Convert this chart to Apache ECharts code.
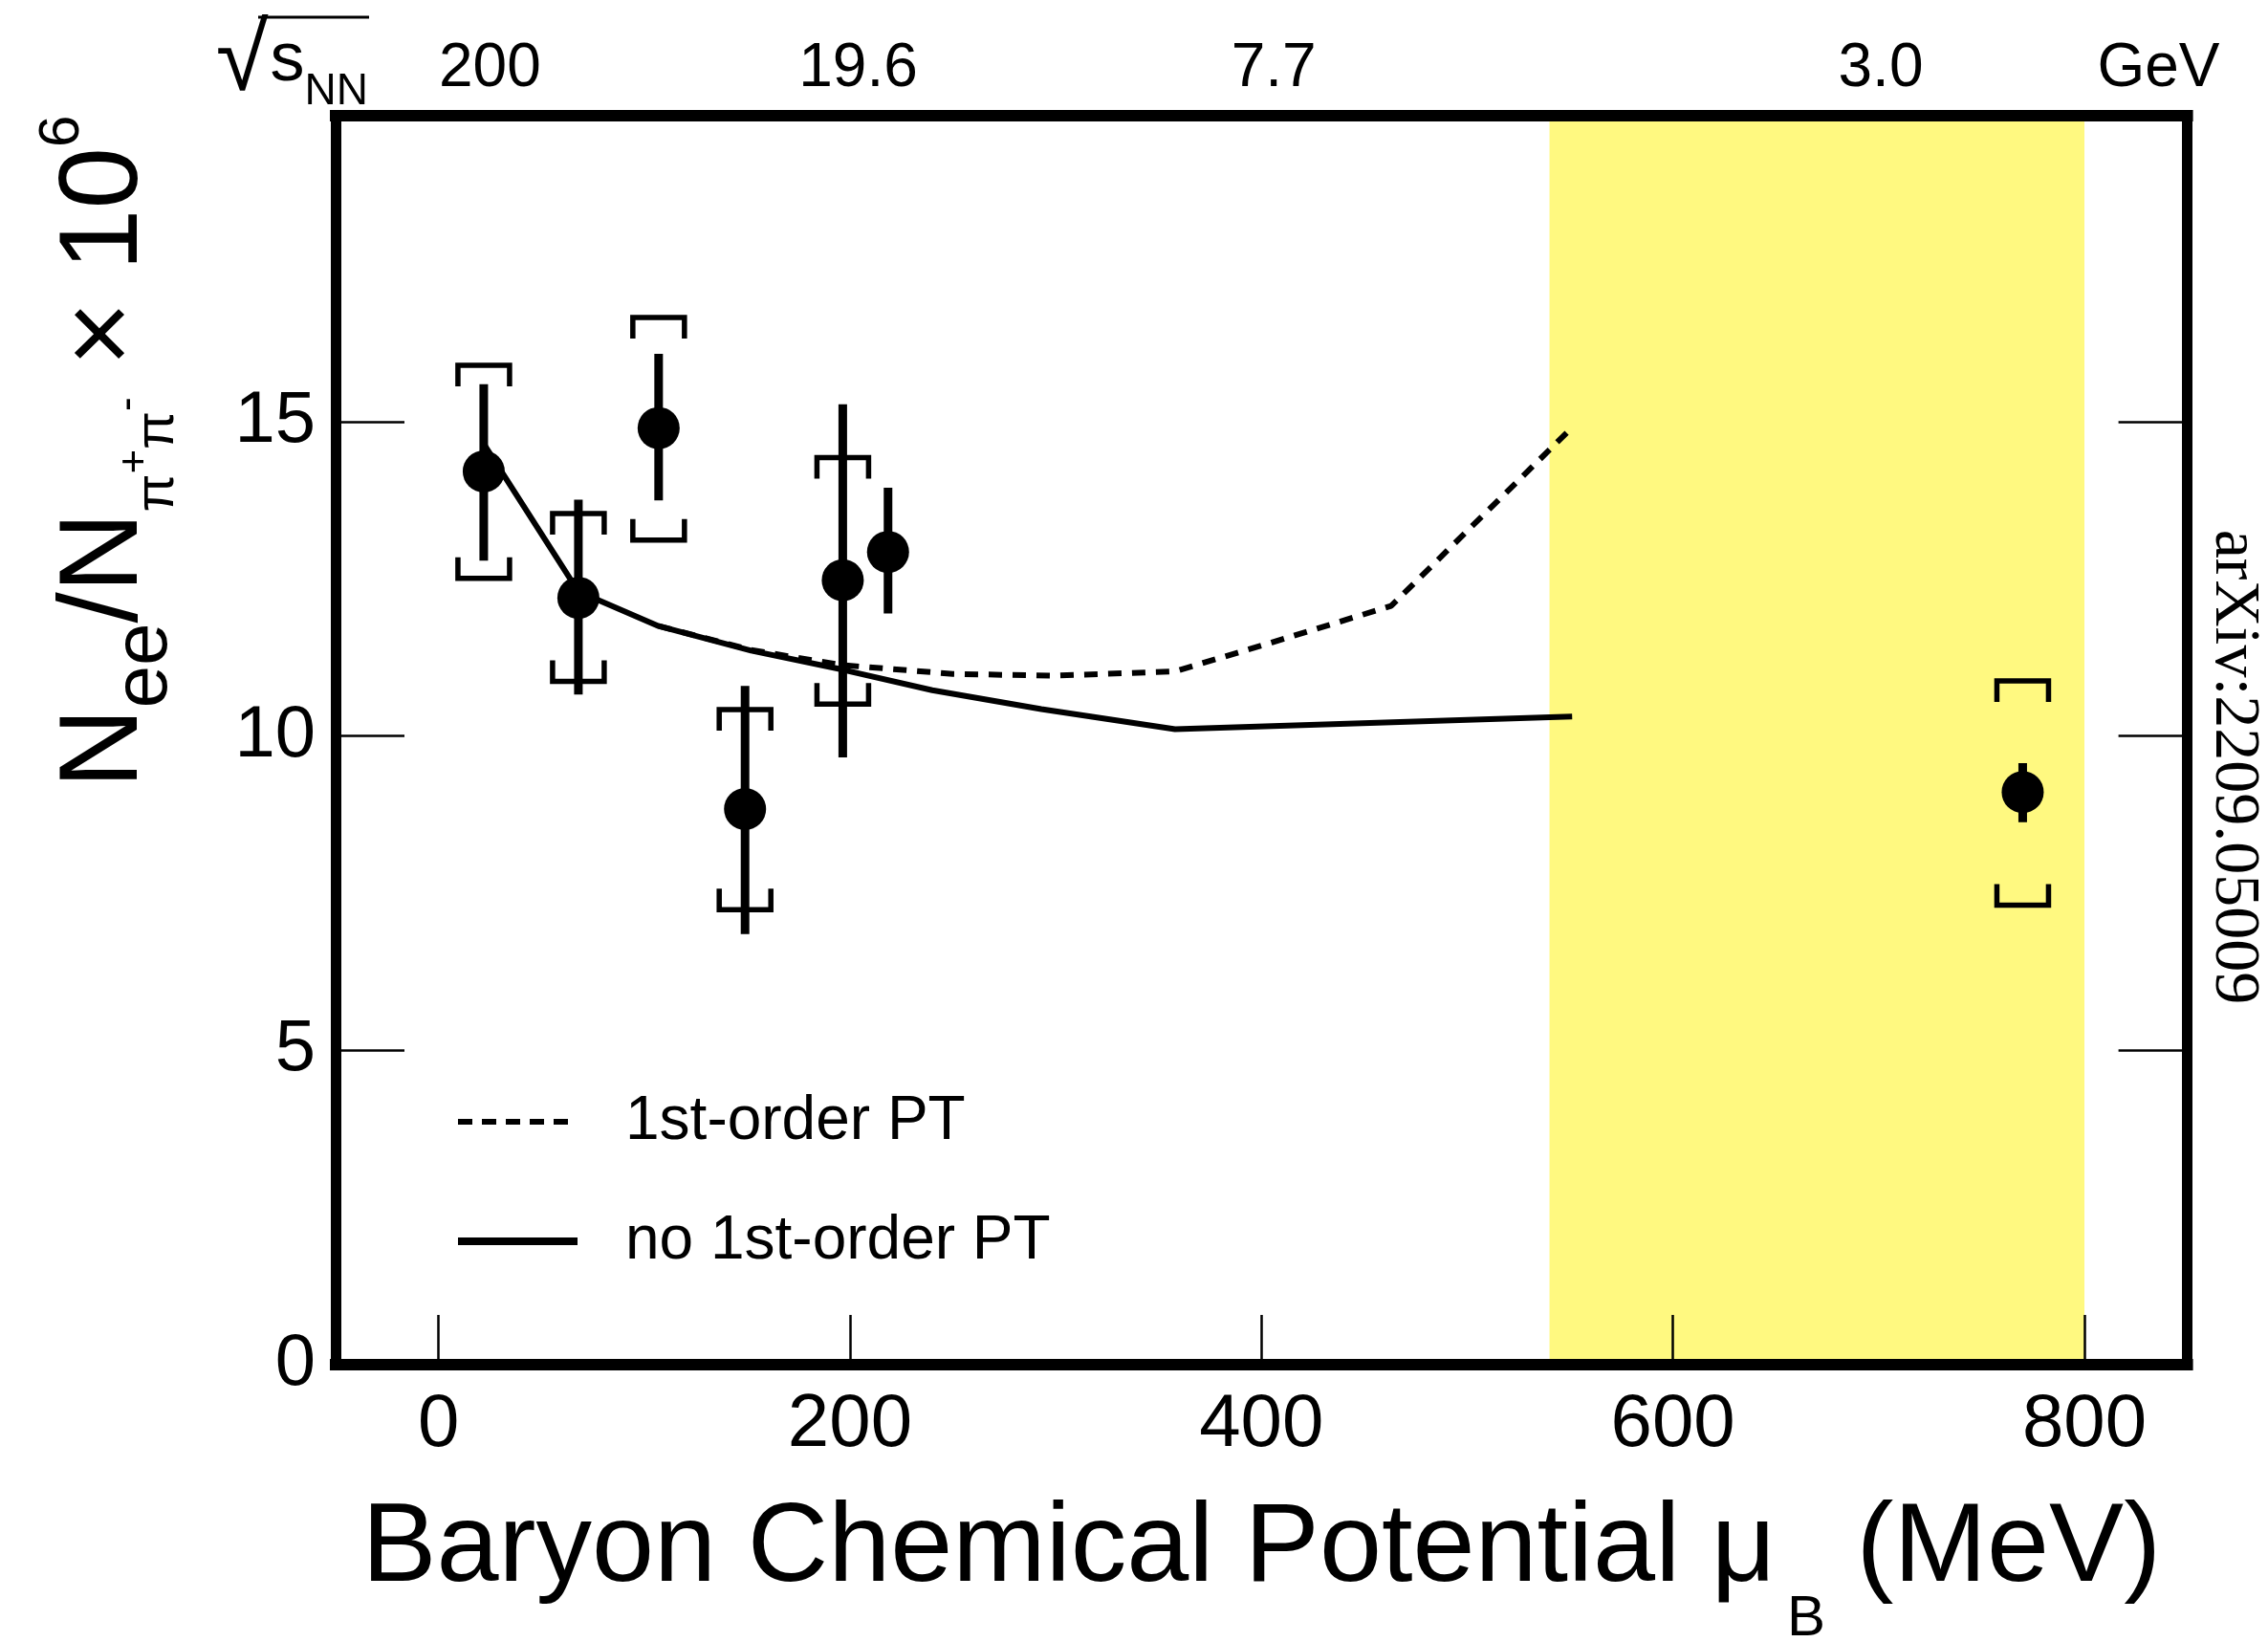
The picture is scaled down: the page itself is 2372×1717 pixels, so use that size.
<!DOCTYPE html>
<html>
<head>
<meta charset="utf-8">
<script src="https://cdn.jsdelivr.net/npm/echarts@6/dist/echarts.min.js"></script>
<style>
  html, body { margin: 0; padding: 0; background: #fff; }
  #chart { width: 2372px; height: 1717px; }
</style>
</head>
<body>
<div id="chart"></div>
<script>
// ---- data ----
const muB       = [22, 68, 107, 149, 196.5, 218.5, 770];
const ratio     = [14.21, 12.20, 14.90, 8.84, 12.48, 12.93, 9.11];
const statLow   = [12.79, 10.66, 13.75, 6.85, 9.66, 11.95, 8.63];
const statHigh  = [15.60, 13.76, 16.08, 10.80, 15.28, 13.95, 9.57];
const sysLow    = [12.51, 10.87, 13.12, 7.24, 10.51, null, 7.31];
const sysHigh   = [15.90, 13.54, 16.66, 10.42, 14.43, null, 10.88];

const solidMu   = [22, 68, 107, 152, 196, 240, 293, 358, 551];
const solidVal  = [14.65, 12.30, 11.75, 11.36, 11.06, 10.73, 10.43, 10.11, 10.31];
const dashMu    = [107, 152, 196, 250, 298, 358, 405, 463, 551];
const dashVal   = [11.75, 11.37, 11.13, 10.99, 10.96, 11.03, 11.49, 12.07, 14.91];

const bandRange = [540, 800];
const xTicks = [0, 200, 400, 600, 800];
const yTicks = [0, 5, 10, 15];
const topTickPos = [25, 204, 406, 701, 836];
const topTickLabels = ['200', '19.6', '7.7', '3.0', 'GeV'];

// ---- build ----
const FONT = 'Liberation Sans, Arial, Helvetica, sans-serif';
const points = muB.map((m, i) => [m, ratio[i]]);
const statData = muB.map((m, i) => [m, statLow[i], statHigh[i]]);
const sysData = [];
muB.forEach((m, i) => { if (sysLow[i] != null) sysData.push([m, sysLow[i], sysHigh[i]]); });
const solidData = solidMu.map((m, i) => [m, solidVal[i]]);
const dashData = dashMu.map((m, i) => [m, dashVal[i]]);

const chart = echarts.init(document.getElementById('chart'), null, { renderer: 'canvas' });

const hiddenSymbol = { color: 'rgba(0,0,0,0)', borderWidth: 0, opacity: 0 };

const option = {
  animation: false,
  backgroundColor: '#fff',
  grid: { left: 351, right: 84.4, top: 121, bottom: 290, containLabel: false, outerBoundsMode: 'none' },
  legend: {
    left: 475, top: 1136, orient: 'vertical', padding: 0, itemGap: 51,
    itemWidth: 125, itemHeight: 30, selectedMode: false,
    textStyle: { fontSize: 64, fontFamily: FONT, color: '#000', lineHeight: 64, padding: [10, 0, 0, 45] },
    data: [
      { name: '1st-order PT', lineStyle: { width: 6, type: [15, 10], color: '#000' }, itemStyle: hiddenSymbol },
      { name: 'no 1st-order PT', lineStyle: { width: 8, type: 'solid', color: '#000' }, itemStyle: hiddenSymbol }
    ]
  },
  xAxis: [
    {
      type: 'value', position: 'bottom', min: -50, max: 850, z: 3,
      splitLine: { show: false },
      axisLine: { show: true, onZero: false, lineStyle: { color: '#000', width: 12, cap: 'square' } },
      axisTick: { show: true, inside: true, length: 52, customValues: xTicks, lineStyle: { color: '#000', width: 2.5 } },
      axisLabel: { show: true, customValues: xTicks, margin: 24, fontSize: 78, fontFamily: FONT, color: '#000' },
      name: '{m|Baryon Chemical Potential μ}{s|B}{m| (MeV)}',
      nameLocation: 'middle', nameGap: 135, nameMoveOverlap: false,
      nameTextStyle: {
        color: '#000', fontFamily: FONT,
        rich: {
          m: { fontSize: 117, lineHeight: 117, verticalAlign: 'top', fontFamily: FONT, color: '#000' },
          s: { fontSize: 60, lineHeight: 60, verticalAlign: 'top', padding: [101, 0, 0, 12], fontFamily: FONT, color: '#000' }
        }
      }
    },
    {
      type: 'value', position: 'top', min: -50, max: 850, z: 3,
      splitLine: { show: false },
      axisLine: { show: true, onZero: false, lineStyle: { color: '#000', width: 12, cap: 'square' } },
      axisTick: { show: false },
      axisLabel: {
        show: true, customValues: topTickPos, margin: 17, fontSize: 64, fontFamily: FONT, color: '#000',
        formatter: function (v) { const i = topTickPos.indexOf(v); return i >= 0 ? topTickLabels[i] : ''; }
      },
      name: '{r|√}{s|s}{n|NN}',
      nameLocation: 'start', nameGap: -34, nameMoveOverlap: false,
      nameTextStyle: {
        color: '#000', fontFamily: FONT, padding: [0, 0, 129, 0],
        rich: {
          r: { fontSize: 100, lineHeight: 100, verticalAlign: 'top', padding: [10, 0, 0, 0], fontFamily: FONT, color: '#000' },
          s: { fontSize: 72, lineHeight: 72, verticalAlign: 'top', padding: [22, 0, 0, 2], fontFamily: FONT, color: '#000' },
          n: { fontSize: 46, lineHeight: 46, verticalAlign: 'top', padding: [67, 0, 0, 0], fontFamily: FONT, color: '#000' }
        }
      }
    }
  ],
  yAxis: [
    {
      type: 'value', position: 'left', min: 0, max: 19.87, interval: 5, z: 3,
      splitLine: { show: false },
      axisLine: { show: true, onZero: false, lineStyle: { color: '#000', width: 11, cap: 'square' } },
      axisTick: { show: true, inside: true, length: 72, customValues: [5, 10, 15], lineStyle: { color: '#000', width: 2.5 } },
      axisLabel: { show: true, customValues: yTicks, margin: 21, fontSize: 76, fontFamily: FONT, color: '#000' },
      name: '{m|N}{e|ee}{m|/N}{p|π}{pm|+}{p|π}{mi|-}{m| × 10}{sup|6}',
      nameLocation: 'middle', nameRotate: 90, nameGap: 212, nameMoveOverlap: false,
      nameTextStyle: {
        color: '#000', fontFamily: FONT, padding: [0, 0, 0, 603],
        rich: {
          m:  { fontSize: 116, lineHeight: 116, verticalAlign: 'top', padding: [30, 0, 0, 0], fontFamily: FONT, color: '#000' },
          e:  { fontSize: 80, lineHeight: 80, verticalAlign: 'top', padding: [89, 0, 0, 0], fontFamily: FONT, color: '#000' },
          p:  { fontSize: 58, lineHeight: 58, verticalAlign: 'top', padding: [113, 0, 0, 0], fontFamily: FONT, color: '#000' },
          pm: { fontSize: 44, lineHeight: 44, verticalAlign: 'top', padding: [97, 0, 0, 0], fontFamily: FONT, color: '#000' },
          mi: { fontSize: 44, lineHeight: 44, verticalAlign: 'top', padding: [89, 0, 0, 0], fontFamily: FONT, color: '#000' },
          sup:{ fontSize: 60, lineHeight: 60, verticalAlign: 'top', padding: [12, 0, 0, 0], fontFamily: FONT, color: '#000' }
        }
      }
    },
    {
      type: 'value', position: 'right', min: 0, max: 19.87, interval: 5, z: 3,
      splitLine: { show: false },
      axisLine: { show: true, onZero: false, lineStyle: { color: '#000', width: 11, cap: 'square' } },
      axisTick: { show: true, inside: true, length: 72, customValues: [5, 10, 15], lineStyle: { color: '#000', width: 2.5 } },
      axisLabel: { show: false },
      name: 'arXiv:2209.05009',
      nameLocation: 'middle', nameRotate: -90, nameGap: 14, nameMoveOverlap: false,
      nameTextStyle: { color: '#000', fontFamily: 'Liberation Serif, Times New Roman, serif', fontSize: 68, padding: [0, 0, 0, 56] }
    }
  ],
  series: [
    {
      name: 'no 1st-order PT', type: 'line', data: solidData, symbol: 'none', z: 2,
      lineStyle: { color: '#000', width: 6 }, itemStyle: { color: '#000' },
      markArea: {
        silent: true, itemStyle: { color: '#fff980' },
        data: [[{ xAxis: bandRange[0] }, { xAxis: bandRange[1] }]]
      }
    },
    {
      name: '1st-order PT', type: 'line', data: dashData, symbol: 'none', z: 2,
      lineStyle: { color: '#000', width: 6, type: [14, 11] }, itemStyle: { color: '#000' }
    },
    {
      name: 'sys', type: 'custom', data: sysData, z: 2,
      encode: { x: 0, y: [1, 2] },
      renderItem: function (params, api) {
        const x = api.value(0);
        const lo = api.coord([x, api.value(1)]);
        const hi = api.coord([x, api.value(2)]);
        const hw = 27, tip = 22;
        const cx = lo[0];
        const st = { stroke: '#000', lineWidth: 5.5, fill: null, lineJoin: 'miter' };
        return {
          type: 'group',
          children: [
            { type: 'polyline', shape: { points: [[cx - hw, hi[1] + tip], [cx - hw, hi[1]], [cx + hw, hi[1]], [cx + hw, hi[1] + tip]] }, style: st },
            { type: 'polyline', shape: { points: [[cx - hw, lo[1] - tip], [cx - hw, lo[1]], [cx + hw, lo[1]], [cx + hw, lo[1] - tip]] }, style: st }
          ]
        };
      }
    },
    {
      name: 'stat', type: 'custom', data: statData, z: 2,
      encode: { x: 0, y: [1, 2] },
      renderItem: function (params, api) {
        const x = api.value(0);
        const lo = api.coord([x, api.value(1)]);
        const hi = api.coord([x, api.value(2)]);
        return { type: 'line', shape: { x1: lo[0], y1: lo[1], x2: hi[0], y2: hi[1] }, style: { stroke: '#000', lineWidth: 9 } };
      }
    },
    {
      name: 'data', type: 'scatter', data: points, symbol: 'circle', symbolSize: 44, z: 4,
      itemStyle: { color: '#000', opacity: 1 }
    }
  ],
  graphic: [
    { type: 'line', shape: { x1: 270, y1: 18, x2: 386, y2: 18 }, style: { stroke: '#000', lineWidth: 3 }, z: 10 }
  ]
};
chart.setOption(option);
</script>
</body>
</html>
